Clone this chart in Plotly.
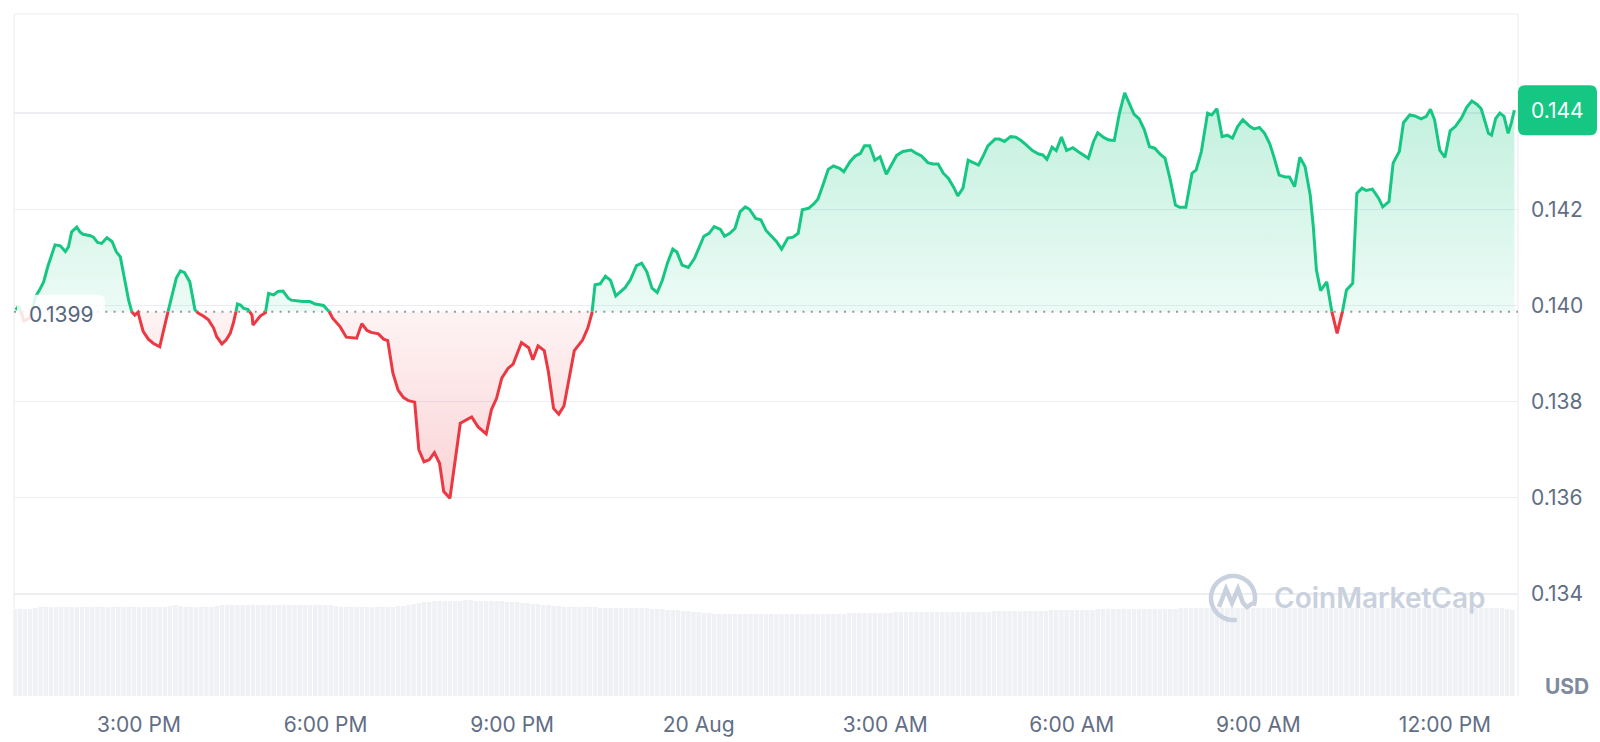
import math
import pandas as pd
import plotly.graph_objects as go

# ---------------- data ----------------
START = "2024-08-19 13:00"
BASELINE = 0.13987   # opening price (reference line)

# minutes after START
T_MIN = [
    1, 4, 9, 15, 20, 24, 28, 32, 39, 44,
    49, 52, 55, 60, 63, 66, 73, 76, 80, 84,
    89, 94, 98, 102, 106, 110, 113, 116, 119, 124,
    129, 134, 140, 143, 148, 153, 156, 160, 164, 169,
    174, 177, 182, 187, 192, 195, 200, 204, 208, 211,
    214, 215, 218, 221, 225, 229, 230, 234, 237, 242,
    245, 250, 254, 259, 264, 267, 274, 278, 285, 290,
    298, 303, 307, 314, 320, 330, 335, 340, 344, 351,
    356, 360, 365, 370, 375, 380, 386, 390, 395, 400,
    405, 410, 414, 420, 430, 441, 447, 455, 460, 465,
    470, 476, 481, 489, 496, 500, 505, 511, 515, 520,
    525, 530, 540, 548, 553, 557, 560, 565, 570, 575,
    580, 589, 594, 600, 605, 610, 615, 620, 625, 630,
    635, 639, 644, 650, 656, 665, 670, 675, 681, 685,
    690, 695, 700, 705, 709, 715, 720, 725, 730, 735,
    740, 746, 751, 756, 760, 766, 771, 775, 780, 785,
    790, 796, 800, 806, 811, 816, 820, 825, 830, 835,
    841, 846, 851, 857, 865, 870, 875, 881, 886, 891,
    896, 901, 906, 910, 915, 920, 925, 930, 935, 939,
    946, 950, 955, 961, 966, 971, 976, 982, 988, 992,
    996, 1001, 1005, 1010, 1015, 1021, 1026, 1031, 1036, 1041,
    1045, 1051, 1056, 1061, 1066, 1071, 1075, 1080, 1085, 1090,
    1095, 1100, 1105, 1110, 1115, 1120, 1124, 1130, 1136, 1140,
    1145, 1151, 1155, 1160, 1165, 1170, 1175, 1180, 1185, 1192,
    1196, 1201, 1206, 1211, 1215, 1220, 1226, 1230, 1235, 1240,
    1245, 1250, 1253, 1256, 1260, 1266, 1271, 1276, 1281, 1285,
    1291, 1295, 1300, 1304, 1310, 1316, 1320, 1326, 1330, 1336,
    1340, 1346, 1351, 1357, 1362, 1366, 1370, 1375, 1380, 1385,
    1390, 1396, 1401, 1406, 1411, 1415, 1422, 1425, 1429, 1433,
    1437, 1441, 1444, 1447,
]

PRICE = [
    .13991, .13999, .13968, .13974, .14018, .14032, .14049, .14081, .14126, .14124,
    .14112, .14122, .14153, .14163, .14153, .14148, .14145, .14142, .14131, .14129,
    .14141, .14133, .14112, .14101, .14053, .14011, .13987, .13980, .13986, .13946,
    .13930, .13921, .13914, .13939, .13987, .14032, .14057, .14072, .14068, .14049,
    .13991, .13984, .13978, .13970, .13953, .13935, .13920, .13928, .13942, .13963,
    .13991, .14003, .14001, .13994, .13992, .13980, .13959, .13970, .13978, .13985,
    .14025, .14022, .14029, .14030, .14015, .14011, .14009, .14008, .14008, .14003,
    .14000, .13989, .13973, .13956, .13934, .13932, .13962, .13948, .13944, .13941,
    .13930, .13927, .13859, .13824, .13809, .13802, .13799, .13700, .13675, .13679,
    .13694, .13672, .13613, .13599, .13755, .13768, .13748, .13733, .13783, .13807,
    .13849, .13869, .13878, .13923, .13912, .13887, .13916, .13906, .13862, .13786,
    .13774, .13791, .13906, .13928, .13953, .13984, .14043, .14045, .14061, .14052,
    .14020, .14037, .14053, .14083, .14088, .14070, .14036, .14027, .14053, .14089,
    .14117, .14111, .14084, .14079, .14098, .14144, .14150, .14164, .14158, .14144,
    .14150, .14160, .14195, .14205, .14200, .14181, .14178, .14156, .14144, .14133,
    .14117, .14140, .14142, .14150, .14199, .14202, .14211, .14221, .14251, .14283,
    .14290, .14285, .14278, .14299, .14311, .14316, .14332, .14332, .14302, .14309,
    .14273, .14292, .14312, .14320, .14323, .14316, .14311, .14297, .14294, .14294,
    .14275, .14264, .14246, .14228, .14244, .14302, .14297, .14292, .14313, .14332,
    .14346, .14346, .14341, .14351, .14350, .14343, .14334, .14322, .14315, .14313,
    .14304, .14329, .14322, .14350, .14322, .14328, .14320, .14313, .14306, .14341,
    .14359, .14349, .14344, .14343, .14400, .14442, .14424, .14398, .14388, .14365,
    .14330, .14327, .14315, .14306, .14261, .14209, .14204, .14204, .14275, .14282,
    .14320, .14400, .14396, .14409, .14351, .14354, .14348, .14372, .14386, .14372,
    .14367, .14370, .14358, .14336, .14309, .14271, .14267, .14267, .14247, .14308,
    .14289, .14230, .14164, .14074, .14031, .14049, .13986, .13942, .13986, .14032,
    .14046, .14233, .14244, .14239, .14242, .14223, .14205, .14216, .14296, .14320,
    .14380, .14396, .14394, .14388, .14393, .14408, .14386, .14323, .14308, .14363,
    .14372, .14390, .14412, .14425, .14418, .14409, .14358, .14354, .14389, .14400,
    .14393, .14358, .14379, .14406,
]

# volume bars, one per 5 minutes starting at START (relative units)
VOL_STEP_MIN = 5
VOLUME = [
    87, 87, 87, 87, 88, 89, 89, 89, 89, 89, 89, 89,   # 13h
    89, 89, 89, 89, 89, 89, 89, 89, 89, 89, 89, 89,   # 14h
    89, 89, 89, 89, 89, 89, 90, 91, 90, 89, 89, 89,   # 15h
    89, 89, 89, 90, 91, 91, 91, 91, 91, 91, 91, 91,   # 16h
    91, 91, 91, 91, 91, 91, 91, 91, 91, 91, 91, 91,   # 17h
    91, 91, 90, 89, 89, 89, 89, 89, 89, 89, 89, 89,   # 18h
    89, 89, 90, 90, 91, 92, 93, 94, 94, 95, 95, 95,   # 19h
    95, 95, 95, 96, 96, 95, 95, 95, 95, 95, 95, 94,   # 20h
    94, 94, 93, 93, 92, 92, 91, 91, 90, 90, 89, 89,   # 21h
    89, 89, 89, 89, 89, 88, 88, 88, 88, 88, 88, 88,   # 22h
    88, 88, 88, 87, 87, 87, 86, 86, 86, 85, 85, 84,   # 23h
    84, 83, 83, 82, 82, 82, 82, 82, 82, 82, 82, 82,   # 0h
    82, 82, 82, 82, 82, 82, 82, 82, 82, 82, 82, 82,   # 1h
    82, 82, 82, 82, 82, 83, 83, 83, 83, 83, 83, 83,   # 2h
    83, 83, 84, 84, 84, 84, 84, 84, 84, 84, 84, 84,   # 3h
    84, 84, 84, 84, 84, 84, 84, 84, 84, 85, 85, 85,   # 4h
    85, 85, 85, 85, 85, 85, 85, 85, 86, 86, 86, 86,   # 5h
    86, 86, 86, 86, 86, 87, 87, 87, 87, 87, 87, 87,   # 6h
    87, 87, 87, 87, 87, 87, 87, 87, 87, 88, 88, 88,   # 7h
    88, 88, 88, 88, 88, 88, 88, 88, 88, 88, 88, 88,   # 8h
    88, 88, 88, 88, 88, 88, 88, 88, 88, 88, 88, 88,   # 9h
    88, 88, 88, 88, 88, 88, 88, 88, 88, 88, 88, 88,   # 10h
    88, 88, 88, 88, 88, 88, 88, 88, 88, 88, 88, 88,   # 11h
    88, 88, 88, 88, 88, 88, 88, 88, 88, 88, 88, 88,   # 12h
    87, 86,                                           # 13h
]

X_TICK_MIN = [120, 300, 480, 660, 840, 1020, 1200, 1380]
X_TICK_TEXT = ["3:00 PM", "6:00 PM", "9:00 PM", "20 Aug", "3:00 AM", "6:00 AM", "9:00 AM", "12:00 PM"]
Y_TICKS = [0.134, 0.136, 0.138, 0.140, 0.142, 0.144]
Y_RANGE = [0.13188, 0.14606]
X_RANGE_MIN = [-0.6, 1450.5]
VOL_RANGE = [0, 682]
CURRENCY = "USD"
WATERMARK = "CoinMarketCap"

# ---------------- styling ----------------
GREEN = "#16c784"
RED = "#ea3943"
GRID = "#eceef2"
TXT = "#616e85"
FONT = "Inter"

W, H = 1600, 742
ML, MR, MT, MB = 14, 82, 14, 46
PW, PH = W - ML - MR, H - MT - MB

start = pd.Timestamp(START)
def tm(m):
    return start + pd.Timedelta(minutes=m)

# augmented series with baseline crossings
xs, ys = [], []
for i, (t, p) in enumerate(zip(T_MIN, PRICE)):
    if i > 0:
        t0, p0 = T_MIN[i - 1], PRICE[i - 1]
        if (p0 - BASELINE) * (p - BASELINE) < 0:
            f = (BASELINE - p0) / (p - p0)
            xs.append(t0 + f * (t - t0))
            ys.append(BASELINE)
    xs.append(t)
    ys.append(p)

xd = [tm(v) for v in xs]

# split line into green / red pieces
gx, gy, rx, ry = [], [], [], []
prev = None
for j in range(len(xs) - 1):
    mid = (ys[j] + ys[j + 1]) / 2
    side = "g" if mid >= BASELINE else "r"
    X, Y = (gx, gy) if side == "g" else (rx, ry)
    if prev != side:
        if X:
            X.append(None); Y.append(None)
        X.append(xd[j]); Y.append(ys[j])
    X.append(xd[j + 1]); Y.append(ys[j + 1])
    prev = side

fig = go.Figure()

# volume bars
vol_x = [tm(i * VOL_STEP_MIN) for i in range(len(VOLUME))]
fig.add_trace(go.Bar(x=vol_x, y=VOLUME, yaxis="y2", marker=dict(color="#eff1f5", line=dict(width=0)),
                     width=VOL_STEP_MIN * 60000 * 0.86, hoverinfo="skip"))

# green fill
fig.add_trace(go.Scatter(x=xd, y=[BASELINE] * len(xd), mode="lines", line=dict(width=0), hoverinfo="skip"))
fig.add_trace(go.Scatter(x=xd, y=[max(v, BASELINE) for v in ys], mode="lines", line=dict(width=0),
                         fill="tonexty",
                         fillgradient=dict(type="vertical", start=BASELINE, stop=max(PRICE),
                                           colorscale=[[0, "rgba(22,199,132,0.08)"], [1, "rgba(22,199,132,0.27)"]]),
                         hoverinfo="skip"))
# red fill
fig.add_trace(go.Scatter(x=xd, y=[BASELINE] * len(xd), mode="lines", line=dict(width=0), hoverinfo="skip"))
fig.add_trace(go.Scatter(x=xd, y=[min(v, BASELINE) for v in ys], mode="lines", line=dict(width=0),
                         fill="tonexty",
                         fillgradient=dict(type="vertical", start=min(PRICE), stop=BASELINE,
                                           colorscale=[[0, "rgba(234,57,67,0.22)"], [1, "rgba(234,57,67,0.06)"]]),
                         hoverinfo="skip"))

# dotted baseline
fig.add_trace(go.Scatter(x=[tm(X_RANGE_MIN[0]), tm(X_RANGE_MIN[1])], y=[BASELINE, BASELINE], mode="lines",
                         line=dict(color="#9199a7", width=2, dash="2px,6.3px"), hoverinfo="skip"))

# price lines
fig.add_trace(go.Scatter(x=gx, y=gy, mode="lines", line=dict(color=GREEN, width=3), connectgaps=False, hoverinfo="skip"))
fig.add_trace(go.Scatter(x=rx, y=ry, mode="lines", line=dict(color=RED, width=3), connectgaps=False, hoverinfo="skip"))

# ---------------- helpers for decorations ----------------
def px2x(px):
    return (px - ML) / PW

def py2y(py):
    return (H - MB - py) / PH

def val2py(v):
    return H - MB - (v - Y_RANGE[0]) / (Y_RANGE[1] - Y_RANGE[0]) * PH

def rounded_rect(x0, y0, x1, y1, r):
    def P(x, y):
        return f"{px2x(x):.6f},{py2y(y):.6f}"
    return (f"M {P(x0 + r, y0)} L {P(x1 - r, y0)} Q {P(x1, y0)} {P(x1, y0 + r)} "
            f"L {P(x1, y1 - r)} Q {P(x1, y1)} {P(x1 - r, y1)} L {P(x0 + r, y1)} "
            f"Q {P(x0, y1)} {P(x0, y1 - r)} L {P(x0, y0 + r)} Q {P(x0, y0)} {P(x0 + r, y0)} Z")

shapes = []
# frame lines
for xx in (0, 1):
    shapes.append(dict(type="line", xref="paper", yref="paper", x0=xx, x1=xx, y0=0, y1=1,
                       line=dict(color=GRID, width=1.2), layer="below"))
shapes.append(dict(type="line", xref="paper", yref="paper", x0=0, x1=1, y0=1, y1=1,
                   line=dict(color=GRID, width=1.2), layer="below"))

# baseline label box
by = val2py(BASELINE) + 3
shapes.append(dict(type="path", xref="paper", yref="paper", path=rounded_rect(17, by - 20, 105, by + 20, 7),
                   fillcolor="rgba(255,255,255,0.86)", line=dict(width=0), layer="above"))

# last price tag
last = PRICE[-1]
ly = val2py(last)
shapes.append(dict(type="path", xref="paper", yref="paper", path=rounded_rect(1518, ly - 25, 1597, ly + 25, 7),
                   fillcolor=GREEN, line=dict(width=0), layer="above"))

# watermark logo
WM = "#c9d1de"
cx, cy, rr = 1233, 598, 22
arc = []
for k in range(0, 61):
    a = math.radians(-20 + k * (300 / 60))
    arc.append((cx + rr * math.cos(a), cy - rr * math.sin(a)))
path = "M " + " L ".join(f"{px2x(x):.6f},{py2y(y):.6f}" for x, y in arc)
shapes.append(dict(type="path", xref="paper", yref="paper", path=path, line=dict(color=WM, width=4.5), layer="above"))
mpts = [(1219, 607), (1226, 589), (1232, 603), (1238, 589), (1243, 603), (1247, 607), (1253, 603)]
path = "M " + " L ".join(f"{px2x(x):.6f},{py2y(y):.6f}" for x, y in mpts)
shapes.append(dict(type="path", xref="paper", yref="paper", path=path, line=dict(color=WM, width=4.5), layer="above"))

annotations = [
    dict(xref="paper", yref="paper", x=px2x(61), y=py2y(by), text=f"{BASELINE:.4f}", showarrow=False,
         xanchor="center", yanchor="middle", font=dict(family=FONT, size=21, color="#58667e")),
    dict(xref="paper", yref="paper", x=px2x(1557.5), y=py2y(ly), text=f"{last:.3f}", showarrow=False,
         xanchor="center", yanchor="middle", font=dict(family=FONT, size=21, color="white")),
    dict(xref="paper", yref="paper", x=px2x(1567), y=py2y(686), text=CURRENCY, showarrow=False,
         xanchor="center", yanchor="middle", font=dict(family=FONT, size=21, color="#808a9d", weight=700)),
    dict(xref="paper", yref="paper", x=px2x(1272), y=py2y(598), text=WATERMARK, showarrow=False,
         xanchor="left", yanchor="middle", font=dict(family=FONT, size=28, color=WM, weight=600)),
]

fig.update_layout(
    width=W, height=H,
    margin=dict(l=ML, r=MR, t=MT, b=MB, autoexpand=False),
    plot_bgcolor="white", paper_bgcolor="white",
    showlegend=False, hovermode=False, bargap=0.1,
    font=dict(family=FONT, color=TXT, size=21),
    shapes=shapes, annotations=annotations,
    xaxis=dict(type="date", range=[tm(X_RANGE_MIN[0]), tm(X_RANGE_MIN[1])],
               tickvals=[tm(m) for m in X_TICK_MIN], ticktext=X_TICK_TEXT, automargin=False,
               showgrid=False, zeroline=False, showline=False, ticks="",
               ticklabelstandoff=14, tickfont=dict(family=FONT, size=21, color=TXT)),
    yaxis=dict(side="right", range=Y_RANGE, tickvals=Y_TICKS, ticktext=[f"{v:.3f}" for v in Y_TICKS],
               showgrid=True, gridcolor=GRID, gridwidth=1.2, zeroline=False, showline=False, ticks="",
               automargin=False, ticklabelstandoff=12, tickfont=dict(family=FONT, size=21, color=TXT)),
    yaxis2=dict(overlaying="y", range=VOL_RANGE, visible=False, showgrid=False),
)

fig.write_html("out.html", config={"displayModeBar": False, "staticPlot": True},
               post_script="document.body.style.margin='0';document.body.style.overflow='hidden';")
